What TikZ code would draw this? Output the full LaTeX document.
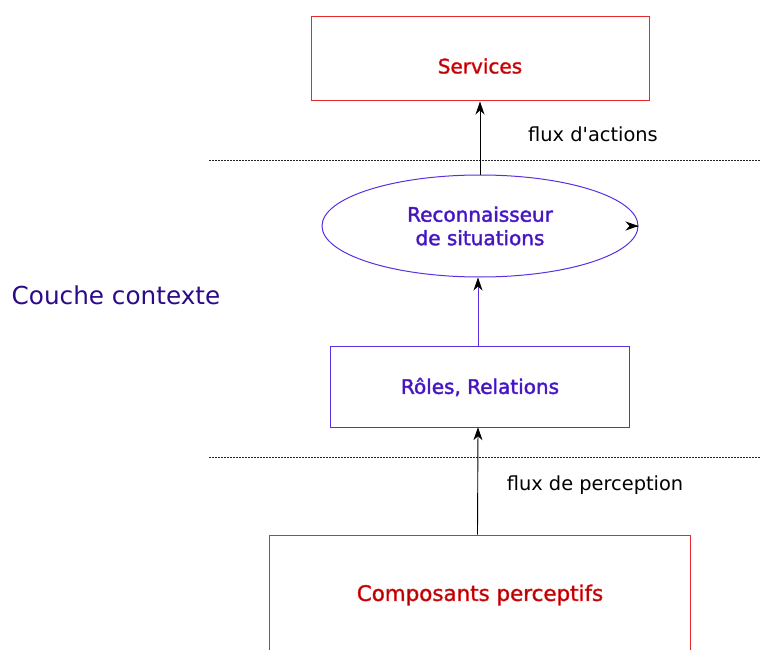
\documentclass[tikz,border=0pt]{standalone}
\usepackage{fontspec}
\setmainfont{DejaVu Sans}
\newfontfamily\plainfont{DejaVu Sans}
\usetikzlibrary{arrows.meta,shapes.geometric}
\definecolor{redline}{HTML}{E8282D}
\definecolor{blueline}{HTML}{5A2FE0}
\definecolor{layertext}{HTML}{2C0A88}
% fill dark, outline lighter (text with a coloured stroke)
\newcommand{\redstroke}[1]{\special{pdf:literal direct q 2 Tr 0.5 w 0.667 0 0 rg 0.91 0.16 0.18 RG}#1\special{pdf:literal direct Q}}
\newcommand{\bluestroke}[1]{\special{pdf:literal direct q 2 Tr 0.5 w 0.267 0.07 0.667 rg 0.35 0.18 0.88 RG}#1\special{pdf:literal direct Q}}
\tikzset{
  redbox/.style={draw=redline, line width=1pt, rectangle, inner sep=0pt},
  blueframe/.style={draw=blueline, color=blueline, line width=1pt},
  boxlabel/.style={font=\fontsize{20}{24}\selectfont, align=center},
  flowlabel/.style={text=black, font=\plainfont\fontsize{19.4}{23}\selectfont},
  flow/.style={draw=black, line width=0.9pt, -{Stealth[length=13pt,width=9pt,inset=4pt,black]}},
  sep/.style={line width=0.8pt, dash pattern=on 2pt off 1pt, draw=black!85}
}
\begin{document}
\begin{tikzpicture}[x=1pt,y=-1pt]
\useasboundingbox (0,0) rectangle (760,650);
% boxes
\node[redbox, minimum width=338pt, minimum height=84pt] (services) at (480,59) {};
\node[boxlabel] (servicestxt) at (480,66) {\redstroke{Services}};
\node[rectangle, inner sep=0pt, minimum width=298pt, minimum height=80pt] (roles) at (480,387) {};
\draw[blueframe] (roles.north west) rectangle (roles.south east);
\node[ellipse, draw=blueline, line width=1pt, inner sep=0pt, minimum width=316pt, minimum height=102pt, boxlabel] (reco) at (480,226) {\bluestroke{Reconnaisseur}\\[-0.5pt]\bluestroke{de situations}};
\node[boxlabel] (rolestxt) at (480,387) {\bluestroke{Rôles, Relations}};
\node[redbox, minimum width=421pt, minimum height=130pt] (comp) at (479.5,600) {};
\node[boxlabel, font=\fontsize{21.4}{25}\selectfont] (comptxt) at (480,595) {\redstroke{Composants perceptifs}};
% separators
\coordinate (s1a) at (209,160); \coordinate (s1b) at (760,160);
\coordinate (s2a) at (209,457); \coordinate (s2b) at (760,457);
\draw[sep] (s1a) -- (s1b);
\draw[sep] (s2a) -- (s2b);
% arrows
\draw[flow] (reco.north) -- (services.south);
\draw[flow, draw=blueline] ([xshift=-2pt]roles.north) -- ([xshift=-2pt]reco.south);
\draw[flow] ([xshift=-2pt]comp.north) -- ([xshift=-2pt]roles.south);
\draw[flow] ([xshift=-1pt]reco.east) -- (reco.east);
% labels
\node[flowlabel] (fa) at (593,134) {flux d'actions};
\node[flowlabel] (fp) at (595,485) {flux de perception};
\node[text=layertext, font=\fontsize{24.7}{30}\selectfont] (layer) at (116,295) {Couche contexte};
\end{tikzpicture}
\end{document}
